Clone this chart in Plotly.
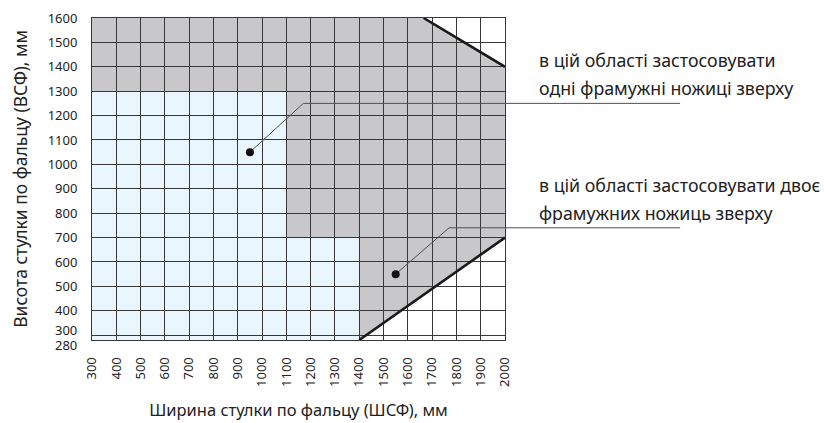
import plotly.graph_objects as go

# ---- data ----
x_ticks = list(range(300, 2001, 100))
y_ticks = [280] + list(range(300, 1601, 100))
y_ticktext = ["", ""] + [str(v) for v in range(400, 1601, 100)]

# regions (vertices in mm)
gray_x = [300, 1665, 2000, 2000, 1400, 1400, 1100, 1100, 300]
gray_y = [1600, 1600, 1400, 700, 280, 700, 700, 1300, 1300]
blue_x = [300, 1100, 1100, 1400, 1400, 300]
blue_y = [1300, 1300, 700, 700, 280, 280]

# boundary lines
upper_x = [1665, 2000]
upper_y = [1600, 1400]
lower_x = [1400, 2000]
lower_y = [280, 700]

# callouts: dot -> elbow -> right edge
call1_x = [950, 1170, 2000]
call1_y = [1050, 1250, 1250]
call2_x = [1550, 1770, 2000]
call2_y = [550, 740, 740]

label1 = ["в цій області застосовувати", "одні фрамужні ножиці зверху"]
label2 = ["в цій області застосовувати двоє", "фрамужних ножиць зверху"]

GRAY = "#c8c8ca"
BLUE = "#eaf6fd"
GRID = "#383838"
FONT = "Noto Sans"
TXT = "#222222"

fig = go.Figure()

def poly_path(xs, ys):
    return "M " + " L ".join(f"{x},{y}" for x, y in zip(xs, ys)) + " Z"

fig.add_shape(type="path", path=poly_path(blue_x, blue_y), xref="x", yref="y",
              fillcolor=BLUE, line=dict(width=0), layer="below")
fig.add_shape(type="path", path=poly_path(gray_x, gray_y), xref="x", yref="y",
              fillcolor=GRAY, line=dict(width=0), layer="below")

for xs, ys in [(upper_x, upper_y), (lower_x, lower_y)]:
    fig.add_trace(go.Scatter(x=xs, y=ys, mode="lines",
                             line=dict(color="#1a1a1a", width=2.6),
                             hoverinfo="skip", showlegend=False))

for xs, ys in [(call1_x, call1_y), (call2_x, call2_y)]:
    fig.add_trace(go.Scatter(x=xs, y=ys, mode="lines",
                             line=dict(color="#505050", width=1),
                             hoverinfo="skip", showlegend=False))
    fig.add_trace(go.Scatter(x=[xs[0]], y=[ys[0]], mode="markers",
                             marker=dict(color="#111111", size=8),
                             hoverinfo="skip", showlegend=False, cliponaxis=False))
    # continuation of leader beyond plot area
    fig.add_shape(type="line", xref="paper", yref="y", x0=1, x1=1.424,
                  y0=ys[-1], y1=ys[-1], line=dict(color="#505050", width=1))

# right-hand labels
for lines, ys in [(label1, [1428, 1313]), (label2, [915, 800])]:
    for t, yv in zip(lines, ys):
        fig.add_annotation(text=t, xref="paper", yref="y", x=1.077, y=yv,
                           xanchor="left", yanchor="middle", showarrow=False,
                           font=dict(family=FONT, size=17.8, color=TXT))

# low y labels (offset so they don't collide)
for val, shift in [(300, 5), (280, -5)]:
    fig.add_annotation(text=str(val), xref="paper", yref="y", x=0, y=val,
                       xanchor="right", yanchor="middle", xshift=-13, yshift=shift,
                       showarrow=False, font=dict(family=FONT, size=13, color=TXT))

fig.update_xaxes(range=[300, 2000], tickvals=x_ticks, ticktext=[str(v) for v in x_ticks],
                 tickangle=-90, showgrid=True, gridcolor=GRID, gridwidth=1,
                 showline=True, linecolor=GRID, linewidth=1, mirror=True,
                 ticks="outside", ticklen=11, tickcolor="rgba(0,0,0,0)",
                 zeroline=False, automargin=False,
                 tickfont=dict(family=FONT, size=13, color=TXT),
                 title=dict(text="Ширина стулки по фальцу (ШСФ), мм", standoff=18,
                            font=dict(family=FONT, size=16.5, color=TXT)))
fig.update_yaxes(range=[280, 1600], tickvals=y_ticks, ticktext=y_ticktext,
                 showgrid=True, gridcolor=GRID, gridwidth=1,
                 showline=True, linecolor=GRID, linewidth=1, mirror=True,
                 ticks="outside", ticklen=11, tickcolor="rgba(0,0,0,0)",
                 zeroline=False, automargin=False,
                 tickfont=dict(family=FONT, size=13, color=TXT),
                 title=dict(text="Висота стулки по фальцу (ВСФ), мм", standoff=27,
                            font=dict(family=FONT, size=17.5, color=TXT)))

# page body adds an 8px offset, so margins are reduced accordingly
fig.update_layout(width=830, height=423, margin=dict(l=84, r=333, t=10, b=91),
                  plot_bgcolor="white", paper_bgcolor="white", showlegend=False)

fig.write_html("out.html")
